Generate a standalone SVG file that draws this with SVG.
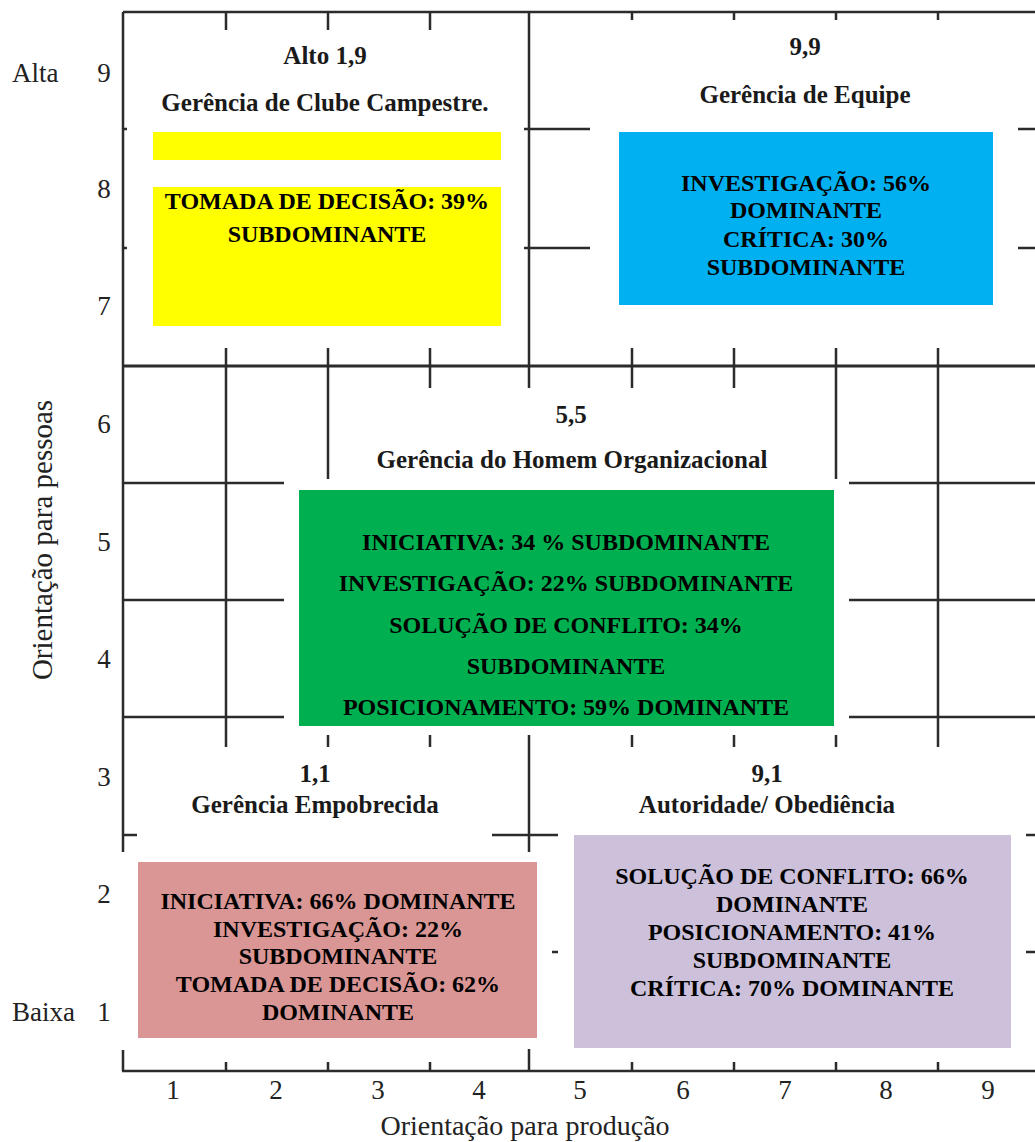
<svg xmlns="http://www.w3.org/2000/svg" width="1035" height="1142" viewBox="0 0 1035 1142">
<style>
text{font-family:"Liberation Serif","Times New Roman",serif;fill:#000}
.ax{font-size:27px;fill:#222}
.ql{font-size:25px;font-weight:bold;fill:#1a1a1a;text-anchor:middle}
.bt{font-size:24px;font-weight:bold;text-anchor:middle}
.g{stroke:#2b2b2b;stroke-width:2.5;fill:none}
</style>
<rect width="1035" height="1142" fill="#fff"/>
<g id="grid" class="g">
<path d="M123 12H1035M123 12V852M123 1050V1071M122 1071H1035"/>
<path d="M123 366H1035" stroke-width="3"/>
<path d="M226 12V30M328 12V30M430 12V30M632 12V20M734 12V20M836 12V20M938 12V20"/>
<path d="M529 12V388M226 348V747M938 348V747M328 348V479M836 348V479M430 348V388M632 348V388M734 348V388"/>
<path d="M123 129H127M123 248H127M524 129H590M524 248H590M1018 129H1035M1018 248H1035"/>
<path d="M123 483H284M123 600H284M123 717H284M849 483H1035M849 600H1035M849 717H1035"/>
<path d="M328 735V747M430 735V747M632 735V747M734 735V747M836 735V747M529 735V852"/>
<path d="M123 835H137M492 835H558M1026 835H1035M552 952H558M1026 952H1035"/>
<path d="M226 1062V1071M328 1062V1071M430 1062V1071M632 1062V1071M734 1062V1071M836 1062V1071M938 1062V1071M529 1049V1071"/>
</g>
<g id="axes">
<text class="ax" x="12" y="82">Alta</text>
<text class="ax" x="12" y="1021">Baixa</text>
<g text-anchor="middle">
<text class="ax" x="104" y="82">9</text>
<text class="ax" x="104" y="198">8</text>
<text class="ax" x="104" y="315">7</text>
<text class="ax" x="104" y="433">6</text>
<text class="ax" x="104" y="551">5</text>
<text class="ax" x="104" y="668">4</text>
<text class="ax" x="104" y="786">3</text>
<text class="ax" x="104" y="903">2</text>
<text class="ax" x="104" y="1021">1</text>
<text class="ax" x="173" y="1099">1</text>
<text class="ax" x="276" y="1099">2</text>
<text class="ax" x="378" y="1099">3</text>
<text class="ax" x="479" y="1099">4</text>
<text class="ax" x="580" y="1099">5</text>
<text class="ax" x="683" y="1099">6</text>
<text class="ax" x="785" y="1099">7</text>
<text class="ax" x="886" y="1099">8</text>
<text class="ax" x="988" y="1099">9</text>
<text class="ax" x="525" y="1135" style="font-size:28px">Orientação para produção</text>
<text class="ax" transform="translate(52 540) rotate(-90)" style="font-size:29px">Orientação para pessoas</text>
</g>
</g>
<g id="q19">
<text class="ql" x="325" y="64">Alto 1,9</text>
<text class="ql" x="325" y="111">Gerência de Clube Campestre.</text>
<rect x="153" y="132" width="348" height="28" fill="#FFFF00"/>
<rect x="153" y="187" width="348" height="139" fill="#FFFF00"/>
<text class="bt" x="327" y="209">TOMADA DE DECISÃO: 39%</text>
<text class="bt" x="327" y="242">SUBDOMINANTE</text>
</g>
<g id="q99">
<text class="ql" x="805" y="55">9,9</text>
<text class="ql" x="805" y="103">Gerência de Equipe</text>
<rect x="619" y="132" width="374" height="173" fill="#00B0F0"/>
<text class="bt" x="806" y="191">INVESTIGAÇÃO: 56%</text>
<text class="bt" x="806" y="218">DOMINANTE</text>
<text class="bt" x="806" y="247">CRÍTICA: 30%</text>
<text class="bt" x="806" y="275">SUBDOMINANTE</text>
</g>
<g id="q55">
<text class="ql" x="571" y="423">5,5</text>
<text class="ql" x="572" y="468">Gerência do Homem Organizacional</text>
<rect x="299" y="490" width="535" height="236" fill="#00B050"/>
<text class="bt" x="566" y="550">INICIATIVA: 34 % SUBDOMINANTE</text>
<text class="bt" x="566" y="591">INVESTIGAÇÃO: 22% SUBDOMINANTE</text>
<text class="bt" x="566" y="633">SOLUÇÃO DE CONFLITO: 34%</text>
<text class="bt" x="566" y="674">SUBDOMINANTE</text>
<text class="bt" x="566" y="715">POSICIONAMENTO: 59% DOMINANTE</text>
</g>
<g id="q11">
<text class="ql" x="315" y="782">1,1</text>
<text class="ql" x="315" y="813">Gerência Empobrecida</text>
<rect x="138" y="862" width="399" height="176" fill="#D99694"/>
<text class="bt" x="338" y="909">INICIATIVA: 66% DOMINANTE</text>
<text class="bt" x="338" y="937">INVESTIGAÇÃO: 22%</text>
<text class="bt" x="338" y="964">SUBDOMINANTE</text>
<text class="bt" x="338" y="992">TOMADA DE DECISÃO: 62%</text>
<text class="bt" x="338" y="1020">DOMINANTE</text>
</g>
<g id="q91">
<text class="ql" x="767" y="782">9,1</text>
<text class="ql" x="767" y="813">Autoridade/ Obediência</text>
<rect x="574" y="835" width="437" height="213" fill="#CCC0DA"/>
<text class="bt" x="792" y="884">SOLUÇÃO DE CONFLITO: 66%</text>
<text class="bt" x="792" y="912">DOMINANTE</text>
<text class="bt" x="792" y="940">POSICIONAMENTO: 41%</text>
<text class="bt" x="792" y="968">SUBDOMINANTE</text>
<text class="bt" x="792" y="996">CRÍTICA: 70% DOMINANTE</text>
</g>
</svg>
